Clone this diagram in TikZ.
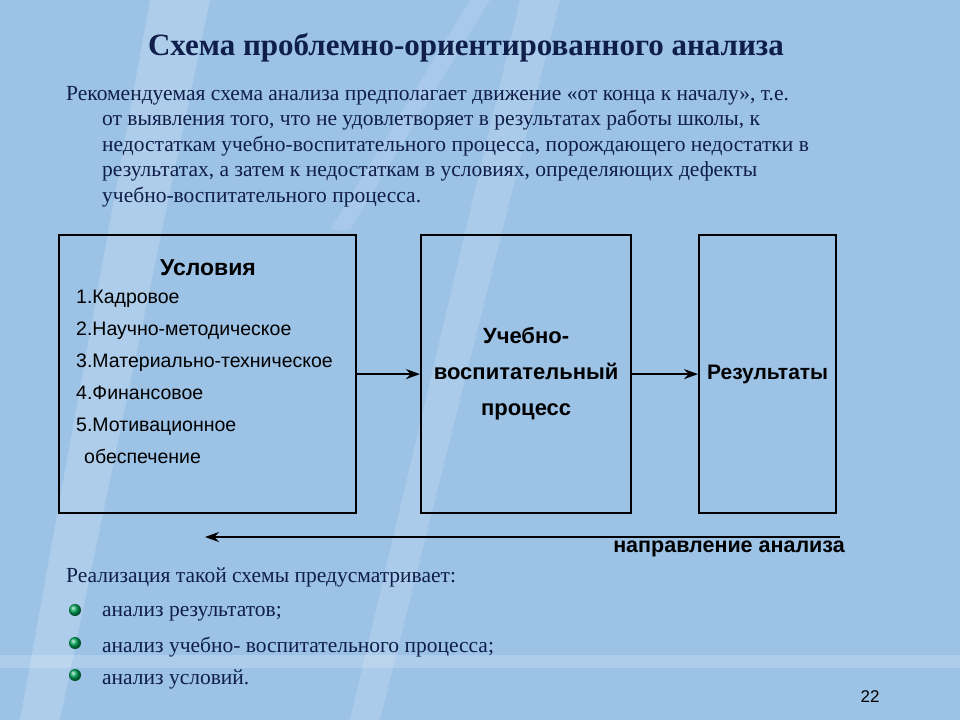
\documentclass[tikz,border=0pt]{standalone}
\usepackage{fontspec}
\setmainfont{Liberation Serif}
\newfontfamily\boxfont{Liberation Sans}
\usetikzlibrary{positioning,arrows.meta,calc}
\definecolor{bgblue}{HTML}{9CC2E6}
\definecolor{navy}{HTML}{0F1E4A}
\tikzset{
  stage/.style={draw=black, line width=2.2pt, anchor=north west},
  flow/.style={-{Stealth[length=14pt,width=10pt]}, line width=2pt},
  body/.style={anchor=north west, inner sep=0pt, font=\fontsize{21.5}{25.5}\selectfont, text=navy, align=left},
  item/.style={body, anchor=west},
  ball/.style={circle, inner sep=0pt, minimum size=12pt, ball color=teal!70!green}
}
\begin{document}
\begin{tikzpicture}[x=1pt, y=-1pt]
\useasboundingbox (0,0) rectangle (960,720);
\fill[bgblue] (0,0) rectangle (960,720);
% light streaks
\fill[white, opacity=0.18] (150,0) -- (210,0) -- (60,720) -- (20,720) -- cycle;
\fill[white, opacity=0.15] (520,0) -- (560,0) -- (380,720) -- (350,720) -- cycle;
\fill[white, opacity=0.12] (330,230) -- (470,0) -- (490,0) -- (350,230) -- cycle;
\fill[white, opacity=0.18] (0,655) rectangle (960,668);
% title
\node[text=navy, font=\bfseries\fontsize{31}{34}\selectfont] (title) at (466,48) {Схема проблемно-ориентированного анализа};
% intro text
\node[body] (intro) at (66,86) {Рекомендуемая схема анализа предполагает движение «от конца к началу», т.е.\\
\hspace*{36pt}от выявления того, что не удовлетворяет в результатах работы школы, к\\
\hspace*{36pt}недостаткам учебно-воспитательного процесса, порождающего недостатки в\\
\hspace*{36pt}результатах, а затем к недостаткам в условиях, определяющих дефекты\\
\hspace*{36pt}учебно-воспитательного процесса.};
% stages
\node[stage, minimum width=297pt, minimum height=278pt] (cond) at (58,234) {};
\node[stage, minimum width=210pt, minimum height=278pt] (proc) at (420,234) {};
\node[stage, minimum width=137pt, minimum height=278pt] (res) at (698,234) {};
\node[font=\boxfont\bfseries\fontsize{23}{26}\selectfont] at (208,268) {Условия};
\node[anchor=north west, align=left, inner sep=0pt, font=\boxfont\fontsize{19.5}{32}\selectfont] at (76,290)
  {1.Кадровое\\2.Научно-методическое\\3.Материально-техническое\\4.Финансовое\\5.Мотивационное\\\hspace*{8pt}обеспечение};
\node[align=center, font=\boxfont\bfseries\fontsize{22}{36}\selectfont] at (proc.center) {Учебно-\\воспитательный\\процесс};
\node[font=\boxfont\bfseries\fontsize{21}{24}\selectfont] at (res.center) {Результаты};
\draw[flow] (cond.east) -- (proc.west);
\draw[flow] (proc.east) -- (res.west);
% direction of analysis
\coordinate (dirA) at (840,537);
\coordinate (dirB) at (205,537);
\draw[flow] (dirA) -- (dirB);
\node[font=\boxfont\bfseries\fontsize{21.5}{24}\selectfont, anchor=north east, inner sep=0pt] (dir) at (845,541) {направление анализа};
% realisation
\node[body] (real) at (66,568) {Реализация такой схемы предусматривает:};
\foreach \y/\t [count=\i] in {612/анализ результатов;, 645/анализ учебно- воспитательного процесса;, 677/анализ условий.}{
  \node[ball] (b\i) at (75,\y-2) {};
  \node[item] (it\i) at (102,\y+2) {\t};
}
\node[font=\boxfont\fontsize{17}{18}\selectfont, text=black] (num) at (870,697) {22};
\end{tikzpicture}
\end{document}
